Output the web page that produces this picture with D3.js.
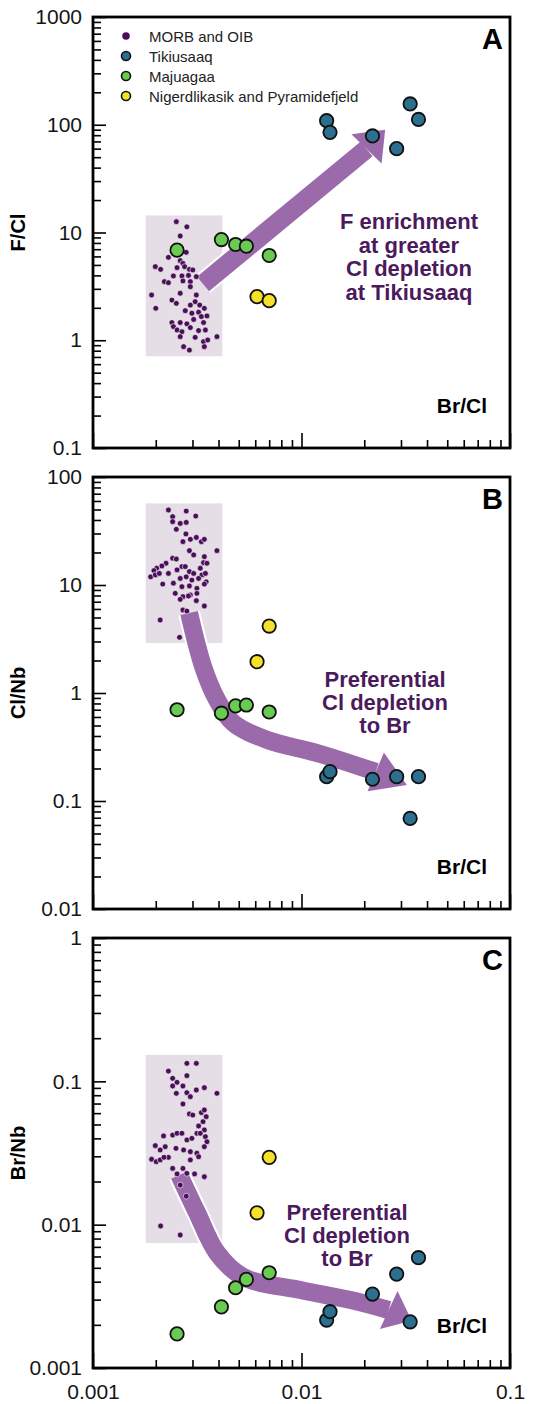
<!DOCTYPE html>
<html>
<head>
<meta charset="utf-8">
<script src="https://cdn.jsdelivr.net/npm/d3@7"></script>
<style>
body { margin: 0; background: #fff; }
svg { display: block; font-family: "Liberation Sans", Arial, sans-serif; }
.tick text { font-size: 21px; fill: #151515; }
.domain { display: none; }
.tick line { stroke: #000; stroke-width: 1.6; }
</style>
</head>
<body>
<svg id="chart" width="544" height="1404"></svg>
<script>
// Br/Cl on the x axis of every panel, shared by all sample groups.
var xDomain = [0.001, 0.1];
var xTickLabels = [0.001, 0.01, 0.1];

// MORB and OIB reference data, [Br/Cl, ratio] per panel.
var morbFCl = [
  [0.00251, 12.6], [0.00282, 11.3], [0.00262, 9.28], [0.00280, 6.55], [0.00230, 5.88],
  [0.00262, 5.48], [0.00270, 5.17], [0.00199, 4.82], [0.00211, 4.55], [0.00253, 4.72],
  [0.00275, 4.82], [0.00290, 4.55], [0.00301, 4.49], [0.00243, 3.95], [0.00267, 3.95],
  [0.00287, 4.0], [0.00313, 3.89], [0.00220, 3.50], [0.00230, 3.42], [0.00270, 3.55],
  [0.00293, 3.50], [0.00293, 3.14], [0.00191, 2.63], [0.00262, 2.73], [0.00239, 2.36],
  [0.00251, 2.20], [0.00313, 2.63], [0.00309, 2.28], [0.00200, 1.98], [0.00293, 2.12],
  [0.00325, 2.12], [0.00342, 1.98], [0.00277, 1.88], [0.00298, 1.78], [0.00321, 1.82],
  [0.00304, 1.56], [0.00331, 1.66], [0.00352, 1.68], [0.00239, 1.46], [0.00262, 1.46],
  [0.00243, 1.34], [0.00282, 1.42], [0.00339, 1.46], [0.00253, 1.245], [0.00267, 1.20],
  [0.00293, 1.31], [0.00321, 1.23], [0.00346, 1.245], [0.00262, 1.08], [0.00309, 1.065],
  [0.00393, 1.08], [0.00339, 0.97], [0.00355, 1.005], [0.00272, 0.872], [0.00290, 0.81],
  [0.00342, 0.872]
];
var morbClNb = [
  [0.00230, 49.5], [0.00280, 48.4], [0.00311, 43.5], [0.00241, 42.9], [0.00241, 38.6],
  [0.00262, 37.2], [0.00280, 38.0], [0.00251, 32.8], [0.00279, 29.7], [0.00270, 25.2],
  [0.00293, 26.5], [0.00313, 27.6], [0.00331, 25.2], [0.00342, 26.5], [0.00393, 20.8],
  [0.00290, 20.8], [0.00304, 19.0], [0.00342, 18.3], [0.00339, 16.1], [0.00352, 15.9],
  [0.00241, 17.7], [0.00251, 17.4], [0.00224, 15.9], [0.00214, 15.0], [0.00202, 14.3],
  [0.00196, 13.6], [0.00189, 11.9], [0.00199, 12.4], [0.00208, 12.8], [0.00230, 12.8],
  [0.00253, 13.8], [0.00267, 14.8], [0.00277, 14.8], [0.00290, 13.3], [0.00304, 12.8],
  [0.00327, 14.3], [0.00333, 12.4], [0.00346, 12.8], [0.00243, 10.4], [0.00262, 11.5],
  [0.00280, 11.9], [0.00298, 11.1], [0.00321, 11.5], [0.00349, 10.7], [0.00216, 10.2],
  [0.00267, 9.65], [0.00290, 9.79], [0.00315, 9.31], [0.00342, 10.2], [0.00248, 8.37],
  [0.00270, 7.80], [0.00293, 8.08], [0.00315, 8.37], [0.00262, 7.37], [0.00287, 7.91],
  [0.00313, 7.16], [0.00342, 6.39], [0.00270, 5.87], [0.00282, 5.74], [0.00210, 4.74],
  [0.00260, 3.28]
];
var morbBrNb = [
  [0.00282, 0.1335], [0.00313, 0.1335], [0.00230, 0.118], [0.00241, 0.105], [0.00282, 0.1095],
  [0.00253, 0.0984], [0.00241, 0.0928], [0.00270, 0.0928], [0.00313, 0.087], [0.00342, 0.0903],
  [0.00251, 0.0825], [0.00282, 0.0833], [0.00293, 0.0782], [0.00393, 0.0825], [0.00270, 0.0695],
  [0.00290, 0.0592], [0.00301, 0.0582], [0.00331, 0.0605], [0.00342, 0.0631], [0.00349, 0.0567],
  [0.00337, 0.0523], [0.00321, 0.0488], [0.00342, 0.0458], [0.00218, 0.0416], [0.00241, 0.0422],
  [0.00253, 0.0434], [0.00267, 0.0434], [0.00282, 0.039], [0.00298, 0.040], [0.00315, 0.0434],
  [0.00327, 0.0434], [0.00346, 0.0411], [0.00352, 0.0379], [0.00199, 0.0356], [0.00210, 0.0332],
  [0.00222, 0.035], [0.00230, 0.0295], [0.00250, 0.0341], [0.00272, 0.0332], [0.00293, 0.0323],
  [0.00315, 0.0315], [0.00342, 0.035], [0.00191, 0.0286], [0.00201, 0.0275], [0.00210, 0.0283],
  [0.00219, 0.0295], [0.00241, 0.0247], [0.00270, 0.0247], [0.00293, 0.0283], [0.00321, 0.0298],
  [0.00282, 0.0228], [0.00307, 0.0226], [0.00342, 0.0216], [0.00253, 0.0226], [0.00262, 0.0189],
  [0.00280, 0.0158], [0.00211, 0.00979], [0.00262, 0.00847]
];

// Tikiusaaq samples.
var tikiBrCl = [0.0132, 0.0137, 0.0219, 0.0286, 0.0332, 0.0364];
var tikiFCl = [109, 85, 78.7, 60, 156, 112];
var tikiClNb = [0.168, 0.187, 0.159, 0.168, 0.069, 0.168];
var tikiBrNb = [0.00216, 0.00247, 0.00328, 0.00452, 0.0021, 0.00588];

// Majuagaa samples.
var majBrCl = [0.00253, 0.00413, 0.00483, 0.00544, 0.0070];
var majFCl = [6.86, 8.6, 7.74, 7.46, 6.12];
var majClNb = [0.70, 0.65, 0.76, 0.774, 0.667];
var majBrNb = [0.00173, 0.00267, 0.00363, 0.00415, 0.00462];

// Nigerdlikasik and Pyramidefjeld samples.
var nigBrCl = [0.00612, 0.0070];
var nigFCl = [2.54, 2.33];
var nigClNb = [1.95, 4.17];
var nigBrNb = [0.0121, 0.0295];

// Y axis ticks per panel.
var yTicksA = [0.1, 1, 10, 100, 1000];
var yTicksB = [0.01, 0.1, 1, 10, 100];
var yTicksC = [0.001, 0.01, 0.1, 1];

// MORB field boxes [xmin, xmax, ymin, ymax].
var boxA = [0.00179, 0.00417, 0.71, 14.4];
var boxB = [0.00179, 0.00417, 2.9, 57];
var boxC = [0.00179, 0.00417, 0.00744, 0.153];

// Trend arrows, center line in data units, last point is the tip.
var arrowA = [[0.00337, 3.33], [0.0205, 59.6], [0.0252, 90]];
var arrowB = [[0.00289, 5.5], [0.00338, 1.74], [0.00394, 0.861], [0.00471, 0.527],
              [0.00686, 0.367], [0.0119, 0.278], [0.0227, 0.186], [0.0320, 0.1406]];
var arrowC = [[0.00259, 0.0222], [0.00316, 0.01205], [0.00394, 0.00634], [0.00526, 0.00431],
              [0.00989, 0.0035], [0.0172, 0.00298], [0.0262, 0.00254], [0.0338, 0.00214]];

var legendItems = ["MORB and OIB", "Tikiusaaq", "Majuagaa", "Nigerdlikasik and Pyramidefjeld"];

var colors = {
    morb: "#4a0f57",
    tiki: "#2c6f8f",
    maj: "#6acb52",
    nig: "#f6e12a",
    box: "#e5dee7",
    arrow: "#9b6aab",
    note: "#4a1a5c"
};

var left = 93, plotW = 417;
var svg = d3.select("#chart");

function zip(xs, ys) {
    return xs.map(function(v, i) { return [v, ys[i]]; });
}

// Returns the 2..9 minor tick values between the given decades.
function minorTicks(domain) {
    var out = [];
    var lo = Math.round(Math.log10(domain[0])), hi = Math.round(Math.log10(domain[1]));
    for (var e = lo; e < hi; e++) {
        for (var k = 2; k < 10; k++) out.push(+(k * Math.pow(10, e)).toPrecision(3));
    }
    return out;
}

function drawArrow(g, x, y, pts, bodyW, headW) {
    var p = pts.map(function(d) { return [x(d[0]), y(d[1])]; });
    var tip = p[p.length - 1], base = p[p.length - 2];
    var dx = tip[0] - base[0], dy = tip[1] - base[1];
    var len = Math.sqrt(dx * dx + dy * dy), ux = dx / len, uy = dy / len;
    var head = [tip,
        [base[0] - uy * headW / 2, base[1] + ux * headW / 2],
        [base[0] + uy * headW / 2, base[1] - ux * headW / 2]];
    var line = d3.line().curve(d3.curveCatmullRom.alpha(0.5));
    var body = line(p.slice(0, p.length - 1));
    var headPath = "M" + head.join("L") + "Z";

    // white outline first, then the purple shape on top
    g.append("path").attr("d", body).attr("fill", "none")
        .attr("stroke", "#fff").attr("stroke-width", bodyW + 4);
    g.append("path").attr("d", headPath).attr("fill", "#fff")
        .attr("stroke", "#fff").attr("stroke-width", 4);
    g.append("path").attr("d", body).attr("fill", "none")
        .attr("stroke", colors.arrow).attr("stroke-width", bodyW);
    g.append("path").attr("d", headPath).attr("fill", colors.arrow);
}

function drawPoints(g, x, y, data, fill) {
    g.selectAll(null).data(data).enter().append("circle")
        .attr("cx", function(d) { return x(d[0]); })
        .attr("cy", function(d) { return y(d[1]); })
        .attr("r", 6.7)
        .attr("fill", fill)
        .attr("stroke", "#111")
        .attr("stroke-width", 1.8);
}

// Draws one panel of the figure.
function Panel(cfg) {
    var h = cfg.height;
    var g = svg.append("g").attr("transform", "translate(" + left + "," + cfg.top + ")");
    var x = d3.scaleLog().domain(xDomain).range([0, plotW]);
    var y = d3.scaleLog().domain([cfg.yTicks[0], cfg.yTicks[cfg.yTicks.length - 1]]).range([h, 0]);

    // MORB field
    g.append("rect")
        .attr("x", x(cfg.box[0])).attr("width", x(cfg.box[1]) - x(cfg.box[0]))
        .attr("y", y(cfg.box[3])).attr("height", y(cfg.box[2]) - y(cfg.box[3]))
        .attr("fill", colors.box);

    // Axes, ticks pointing inward
    g.append("g").call(d3.axisLeft(y).tickValues(minorTicks(y.domain())).tickSize(-8).tickFormat(""));
    g.append("g").call(d3.axisLeft(y).tickValues(cfg.yTicks).tickSize(-13).tickPadding(11)
        .tickFormat(function(d) { return String(d); }));
    g.append("g").attr("transform", "translate(0," + h + ")")
        .call(d3.axisBottom(x).tickValues(minorTicks(xDomain)).tickSize(-8).tickFormat(""));
    g.append("g").attr("transform", "translate(0," + h + ")")
        .call(d3.axisBottom(x).tickValues(xTickLabels).tickSize(-15).tickPadding(16)
            .tickFormat(cfg.xLabels ? function(d) { return String(d); } : ""));

    drawArrow(g, x, y, cfg.arrow, cfg.bodyW, cfg.headW);

    g.selectAll(null).data(cfg.morb).enter().append("circle")
        .attr("cx", function(d) { return x(d[0]); })
        .attr("cy", function(d) { return y(d[1]); })
        .attr("r", 2.9)
        .attr("fill", colors.morb)
        .attr("stroke", "#fff")
        .attr("stroke-width", 0.6);

    drawPoints(g, x, y, cfg.maj, colors.maj);
    drawPoints(g, x, y, cfg.nig, colors.nig);
    drawPoints(g, x, y, cfg.tiki, colors.tiki);

    // Frame
    g.append("rect").attr("width", plotW).attr("height", h)
        .attr("fill", "none").attr("stroke", "#000").attr("stroke-width", 2.8);

    // Labels
    svg.append("text")
        .attr("transform", "translate(25," + (cfg.top + h / 2) + ") rotate(-90)")
        .attr("text-anchor", "middle")
        .style("font-size", "20px").style("font-weight", "bold")
        .text(cfg.yTitle);
    g.append("text").attr("x", 394).attr("y", h - 35).attr("text-anchor", "end")
        .style("font-size", "21px").style("font-weight", "bold").text("Br/Cl");
    g.append("text").attr("x", 410).attr("y", 32).attr("text-anchor", "end")
        .style("font-size", "29px").style("font-weight", "bold").text(cfg.letter);

    var note = g.append("text").attr("text-anchor", "middle")
        .style("font-size", "22px").style("font-weight", "bold").attr("fill", colors.note);
    cfg.note.forEach(function(s, i) {
        note.append("tspan").attr("x", cfg.noteX).attr("y", cfg.noteY + i * cfg.noteStep).text(s);
    });

    this.g = g;
}

var panelA = new Panel({
    top: 17, height: 431, yTicks: yTicksA, yTitle: "F/Cl", letter: "A",
    box: boxA, arrow: arrowA, bodyW: 19, headW: 42,
    morb: morbFCl, tiki: zip(tikiBrCl, tikiFCl), maj: zip(majBrCl, majFCl), nig: zip(nigBrCl, nigFCl),
    note: ["F enrichment", "at greater", "Cl depletion", "at Tikiusaaq"],
    noteX: 316, noteY: 212, noteStep: 23.5
});
var panelB = new Panel({
    top: 477, height: 432, yTicks: yTicksB, yTitle: "Cl/Nb", letter: "B",
    box: boxB, arrow: arrowB, bodyW: 18, headW: 42,
    morb: morbClNb, tiki: zip(tikiBrCl, tikiClNb), maj: zip(majBrCl, majClNb), nig: zip(nigBrCl, nigClNb),
    note: ["Preferential", "Cl depletion", "to Br"],
    noteX: 292, noteY: 210, noteStep: 23
});
var panelC = new Panel({
    top: 938, height: 430, yTicks: yTicksC, yTitle: "Br/Nb", letter: "C", xLabels: true,
    box: boxC, arrow: arrowC, bodyW: 18, headW: 42,
    morb: morbBrNb, tiki: zip(tikiBrCl, tikiBrNb), maj: zip(majBrCl, majBrNb), nig: zip(nigBrCl, nigBrNb),
    note: ["Preferential", "Cl depletion", "to Br"],
    noteX: 254, noteY: 282, noteStep: 23
});

// Legend in panel A
var legend = panelA.g.append("g").attr("transform", "translate(33,19)");
var legendFill = [colors.morb, colors.tiki, colors.maj, colors.nig];
legendItems.forEach(function(label, i) {
    var row = legend.append("g").attr("transform", "translate(0," + (i * 20) + ")");
    row.append("circle").attr("r", i === 0 ? 3.8 : 4.5)
        .attr("fill", legendFill[i])
        .attr("stroke", i === 0 ? "none" : "#111")
        .attr("stroke-width", 1.6);
    row.append("text").attr("x", 23).attr("y", 5.5)
        .style("font-size", "15px").attr("fill", "#222").text(label);
});
</script>
</body>
</html>
